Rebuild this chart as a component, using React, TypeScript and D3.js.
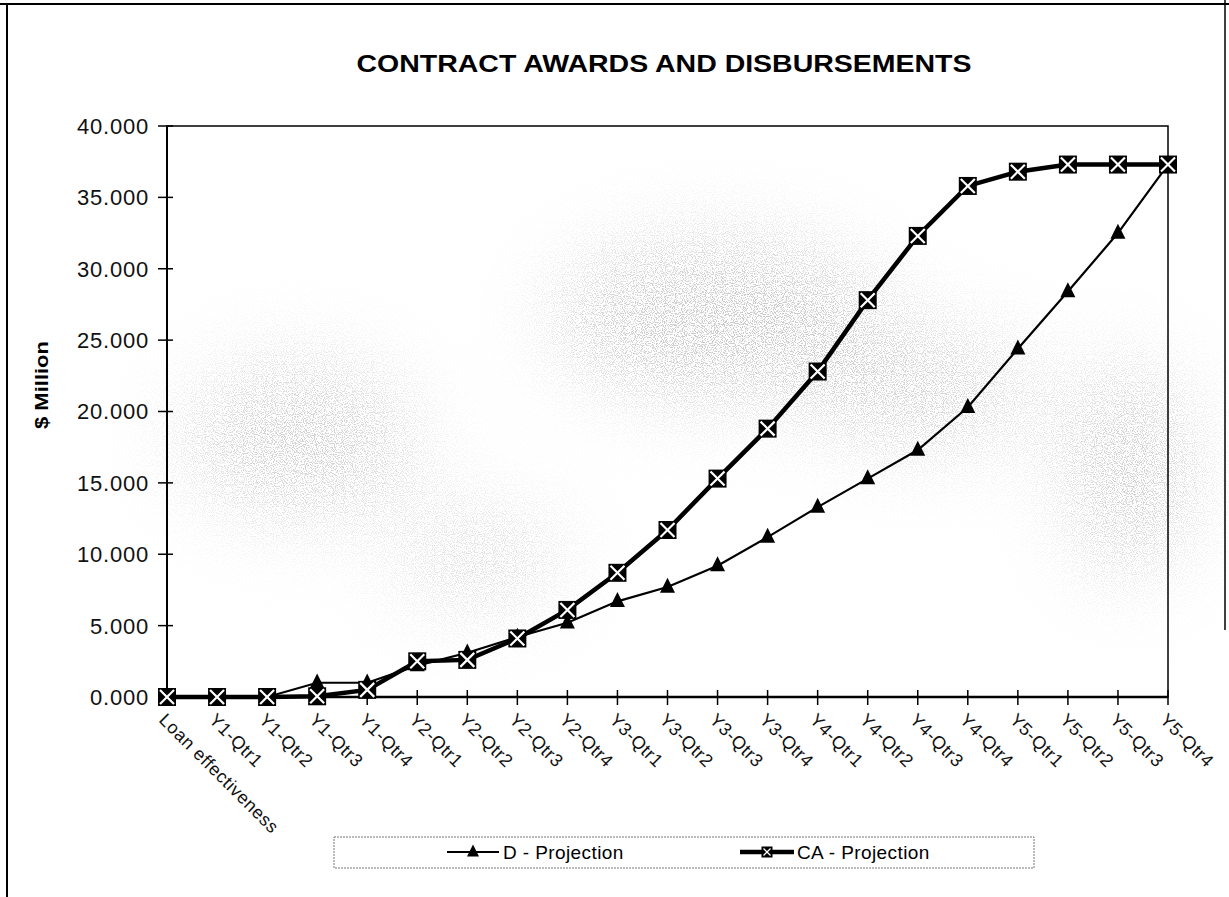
import React from "react";
import * as d3 from "d3";

const categories = [
  "Loan effectiveness", "Y1-Qtr1", "Y1-Qtr2", "Y1-Qtr3", "Y1-Qtr4",
  "Y2-Qtr1", "Y2-Qtr2", "Y2-Qtr3", "Y2-Qtr4",
  "Y3-Qtr1", "Y3-Qtr2", "Y3-Qtr3", "Y3-Qtr4",
  "Y4-Qtr1", "Y4-Qtr2", "Y4-Qtr3", "Y4-Qtr4",
  "Y5-Qtr1", "Y5-Qtr2", "Y5-Qtr3", "Y5-Qtr4",
];
const dProjection = [0, 0, 0, 1.0, 1.0, 2.2, 3.1, 4.2, 5.2, 6.7, 7.7, 9.2, 11.2, 13.3, 15.3, 17.3, 20.3, 24.4, 28.4, 32.5, 37.3];
const caProjection = [0, 0, 0, 0.05, 0.5, 2.5, 2.6, 4.1, 6.1, 8.7, 11.7, 15.3, 18.8, 22.8, 27.8, 32.3, 35.8, 36.8, 37.3, 37.3, 37.3];
const yTicks = [0, 5, 10, 15, 20, 25, 30, 35, 40];
const title = "CONTRACT AWARDS  AND DISBURSEMENTS";
const yAxisTitle = "$ Million";
const seriesNames = ["D - Projection", "CA - Projection"];

const W = 1229, H = 897;
const L = 167, R = 1168, T = 126, B = 697;
const FONT = "'Liberation Sans', Arial, Helvetica, sans-serif";

const x = d3.scalePoint<string>().domain(categories).range([L, R]);
const y = d3.scaleLinear().domain([0, 40]).range([B, T]);
const fmt = d3.format(".3f");

function Tri({ cx, cy, s }: { cx: number; cy: number; s: number }) {
  const p = d3.path();
  p.moveTo(cx, cy - s * 0.62);
  p.lineTo(cx + s / 2, cy + s * 0.38);
  p.lineTo(cx - s / 2, cy + s * 0.38);
  p.closePath();
  return <path d={p.toString()} fill="#000" />;
}

function BoxX({ cx, cy, s, sw }: { cx: number; cy: number; s: number; sw: number }) {
  const h = s / 2;
  const k = h - 2;
  return (
    <g>
      <rect x={cx - h} y={cy - h} width={s} height={s} fill="#000" />
      <line x1={cx - k} y1={cy - k} x2={cx + k} y2={cy + k} stroke="#fff" strokeWidth={sw} />
      <line x1={cx - k} y1={cy + k} x2={cx + k} y2={cy - k} stroke="#fff" strokeWidth={sw} />
    </g>
  );
}

export default function App() {
  const line = d3.line<number>().x((_, i) => x(categories[i]) as number).y((v) => y(v));
  return (
    <svg width={W} height={H} style={{ position: "absolute", left: 0, top: 0, background: "#fff" }} fontFamily={FONT}>
      <defs>
        <filter id="blur" x="-50%" y="-50%" width="200%" height="200%">
          <feGaussianBlur stdDeviation="45" />
        </filter>
        <filter id="speckle" filterUnits="userSpaceOnUse" x={0} y={0} width={W} height={H}>
          <feTurbulence type="fractalNoise" baseFrequency="0.9" numOctaves="1" seed="7" />
          <feColorMatrix type="matrix" values="0 0 0 0 0.45  0 0 0 0 0.45  0 0 0 0 0.45  -9 0 0 0 4.6" />
        </filter>
        <mask id="shade" maskUnits="userSpaceOnUse" x={0} y={0} width={W} height={H}>
          <g filter="url(#blur)">
            <ellipse cx={720} cy={320} rx={170} ry={80} fill="#fff" />
            <ellipse cx={300} cy={440} rx={120} ry={80} fill="#ddd" />
            <ellipse cx={1130} cy={470} rx={60} ry={110} fill="#fff" />
            <ellipse cx={920} cy={390} rx={120} ry={60} fill="#ddd" />
            <ellipse cx={480} cy={560} rx={90} ry={50} fill="#bbb" />
          </g>
        </mask>
      </defs>
      {/* faint scan speckle */}
      <g mask="url(#shade)" opacity={0.75}>
        <rect x={L} y={T} width={R - L} height={B - T} fill="#fff" filter="url(#speckle)" />
      </g>
      {/* outer frame */}
      <line x1={0} y1={4} x2={W} y2={4} stroke="#000" strokeWidth={2} />
      <line x1={7} y1={4} x2={7} y2={H} stroke="#000" strokeWidth={2} />
      <line x1={1225} y1={0} x2={1225} y2={630} stroke="#000" strokeWidth={1.5} />

      <text x={664} y={72} fontSize={24} fontWeight="bold" textAnchor="middle" textLength={615} lengthAdjust="spacingAndGlyphs">{title}</text>

      {/* plot frame */}
      <rect x={L} y={T} width={R - L} height={B - T} fill="none" stroke="#000" strokeWidth={1.5} />
      <line x1={L} y1={T} x2={L} y2={B} stroke="#000" strokeWidth={2} />
      <line x1={L} y1={B} x2={R} y2={B} stroke="#000" strokeWidth={2.5} />

      {yTicks.map((t) => (
        <g key={t}>
          <line x1={L - 9} x2={L + 6} y1={y(t)} y2={y(t)} stroke="#000" strokeWidth={1.5} />
          <text x={149} y={y(t)} dy="0.36em" fontSize={22} letterSpacing={0.8} textAnchor="end" fill="#111">{fmt(t)}</text>
        </g>
      ))}

      <text transform={`translate(48, 385) rotate(-90)`} fontSize={19} fontWeight="bold" textAnchor="middle" textLength={88} lengthAdjust="spacingAndGlyphs">{yAxisTitle}</text>

      {categories.map((c) => (
        <g key={c}>
          <line x1={x(c)} x2={x(c)} y1={B - 7} y2={B + 8} stroke="#000" strokeWidth={1.5} />
          <text transform={`translate(${(x(c) as number) - 9}, ${B + 24}) rotate(45)`} fontSize={18} letterSpacing={0.6} fill="#111">{c}</text>
        </g>
      ))}

      {/* D series */}
      <path d={line(dProjection) as string} fill="none" stroke="#000" strokeWidth={2.2} />
      {dProjection.map((v, i) => (
        <Tri key={"d" + i} cx={x(categories[i]) as number} cy={y(v)} s={15} />
      ))}

      {/* CA series */}
      <path d={line(caProjection) as string} fill="none" stroke="#000" strokeWidth={4.5} />
      {caProjection.map((v, i) => (
        <BoxX key={"c" + i} cx={x(categories[i]) as number} cy={y(v)} s={18} sw={2.2} />
      ))}

      {/* legend */}
      <rect x={334} y={837} width={700} height={31} fill="none" stroke="#777" strokeWidth={1} strokeDasharray="2,1" />
      <line x1={447} x2={499} y1={852} y2={852} stroke="#000" strokeWidth={2} />
      <Tri cx={473} cy={852} s={12} />
      <text x={503} y={852} dy="0.36em" fontSize={19} letterSpacing={0.4}>{seriesNames[0]}</text>
      <line x1={740} x2={794} y1={852} y2={852} stroke="#000" strokeWidth={4.5} />
      <BoxX cx={767} cy={852} s={11} sw={1.2} />
      <text x={797} y={852} dy="0.36em" fontSize={19} letterSpacing={0.4}>{seriesNames[1]}</text>
    </svg>
  );
}
